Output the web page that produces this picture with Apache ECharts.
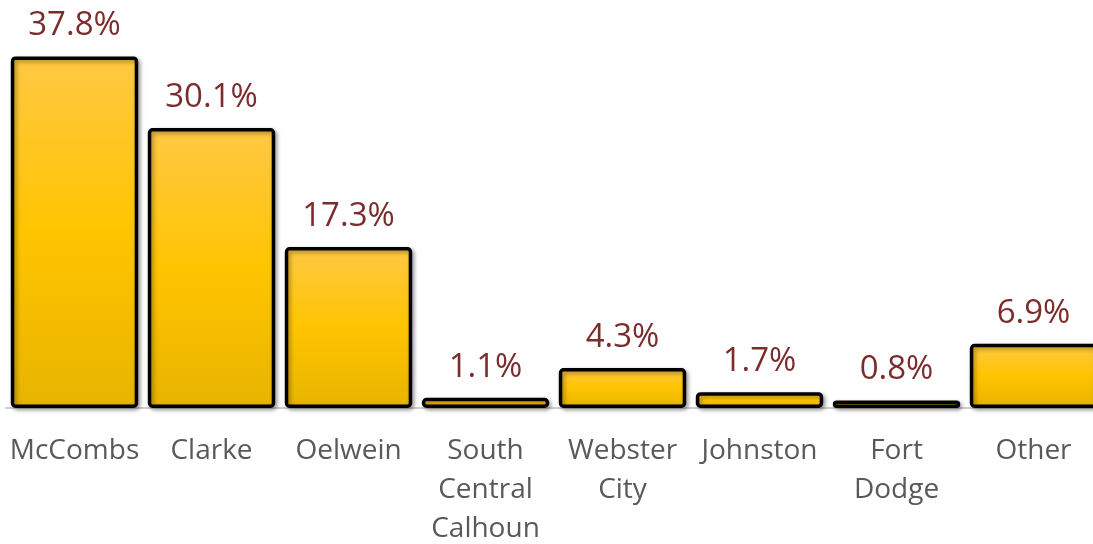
<!DOCTYPE html>
<html>
<head>
<meta charset="utf-8">
<script src="https://cdn.jsdelivr.net/npm/echarts@6/dist/echarts.min.js"></script>
<style>
  html, body { margin: 0; padding: 0; background: #fff; }
  #chart { width: 1093px; height: 544px; }
</style>
</head>
<body>
<div id="chart"></div>
<script>
// 类别与数值
const categories = ['McCombs', 'Clarke', 'Oelwein', 'South\nCentral\nCalhoun', 'Webster\nCity', 'Johnston', 'Fort\nDodge', 'Other'];
const shares = [37.8, 30.1, 17.3, 1.1, 4.3, 1.7, 0.8, 6.9];

const chart = echarts.init(document.getElementById('chart'));

const barFill = new echarts.graphic.LinearGradient(0, 0, 0, 1, [
    { offset: 0, color: '#FFC844' },
    { offset: 0.5, color: '#FFC400' },
    { offset: 1, color: '#E8B400' }
]);

chart.setOption({
    animation: false,
    grid: { left: 6, width: 1096, top: 36, bottom: 136, containLabel: false, outerBoundsMode: 'none' },
    xAxis: {
        type: 'category',
        data: categories,
        axisTick: { show: false },
        axisLine: { lineStyle: { color: '#d0d0d0', width: 2 } },
        axisLabel: {
            color: '#595959',
            fontSize: 28,
            fontFamily: 'Open Sans',
            lineHeight: 39,
            margin: 24,
            interval: 0
        }
    },
    yAxis: {
        type: 'value',
        min: 0,
        max: 40,
        show: false,
        splitLine: { show: false }
    },
    series: [{
        type: 'bar',
        data: shares,
        barCategoryGap: '7%',
        itemStyle: {
            color: barFill,
            borderColor: '#000',
            borderWidth: 3.5,
            borderRadius: 3,
            shadowColor: 'rgba(0,0,0,0.35)',
            shadowBlur: 4,
            shadowOffsetX: 2,
            shadowOffsetY: 2
        },
        label: {
            show: true,
            position: 'top',
            distance: 14,
            color: '#7B2C2C',
            fontSize: 33,
            fontFamily: 'Open Sans',
            formatter: (p) => p.value.toFixed(1) + '%'
        }
    }]
});
</script>
</body>
</html>
